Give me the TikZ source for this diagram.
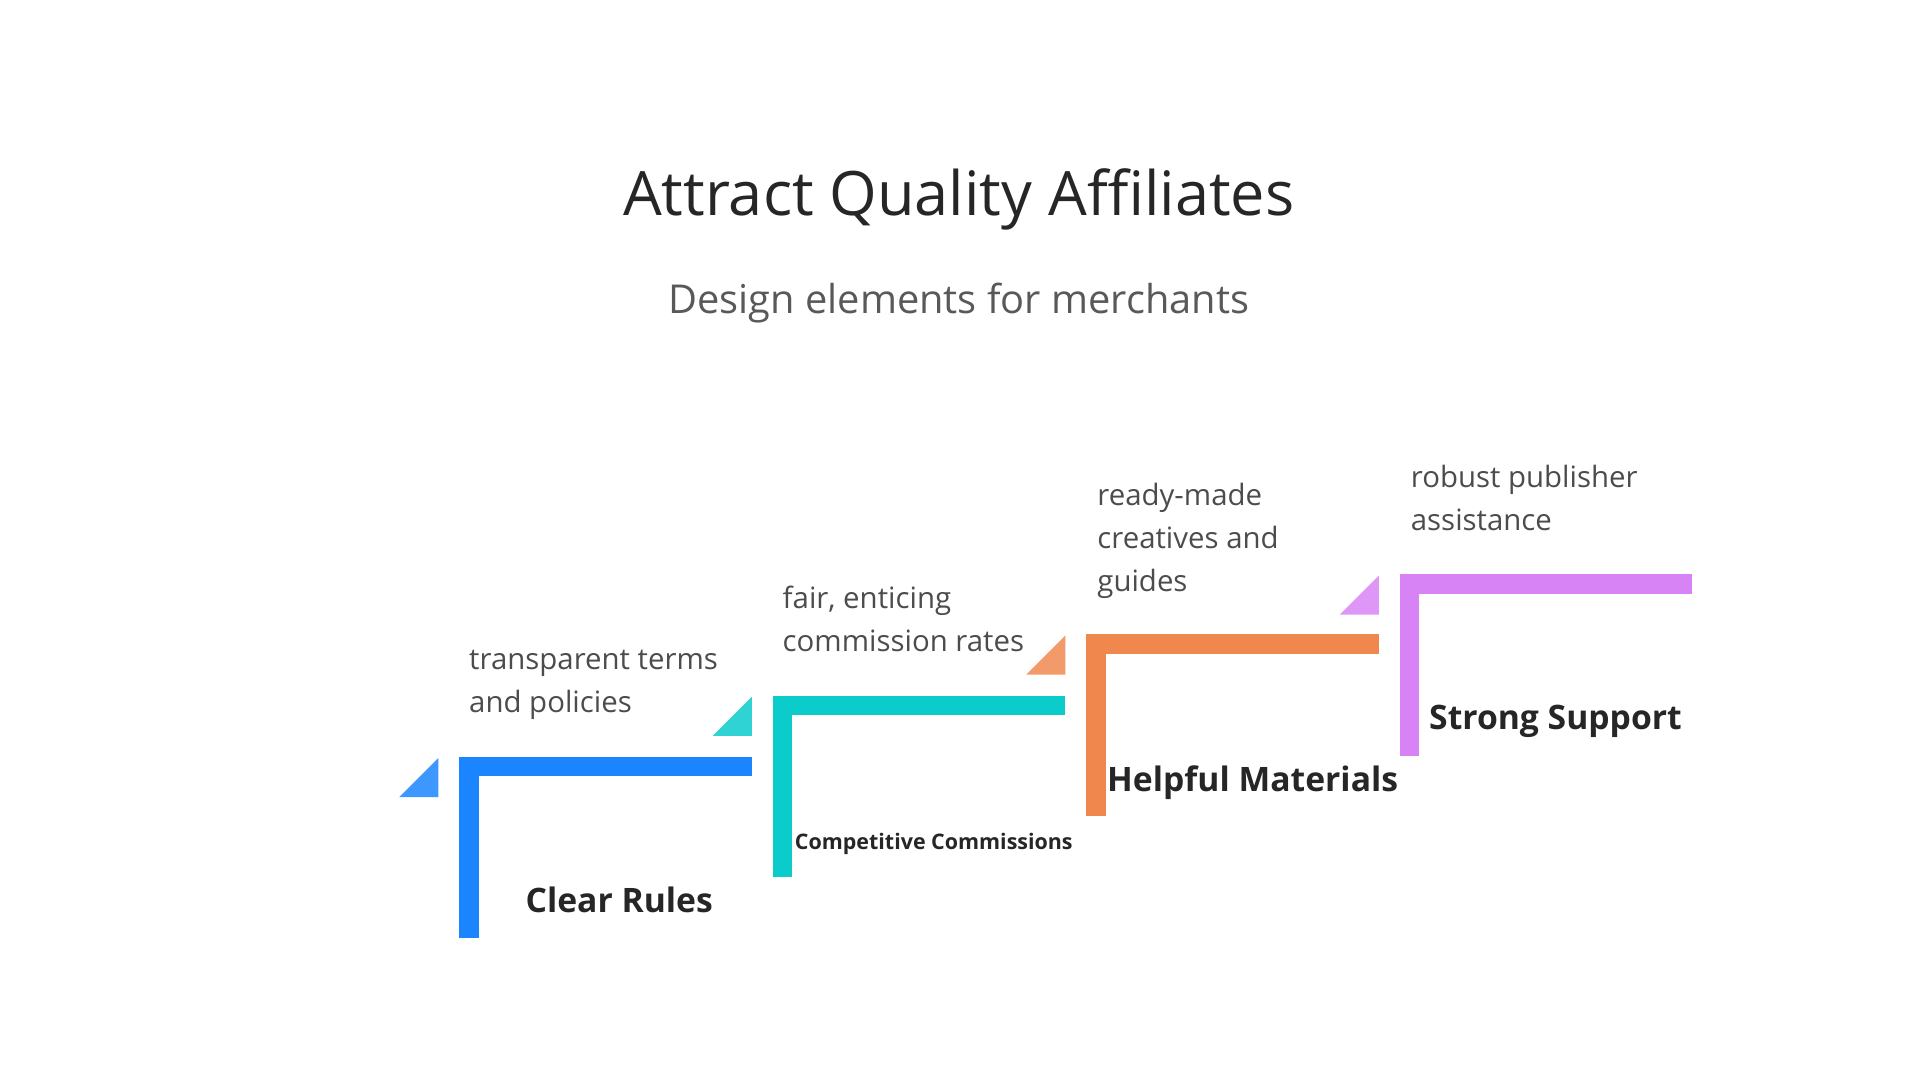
\documentclass[tikz,border=0pt]{standalone}
\usepackage{fontspec}
\setmainfont{Open Sans}
\begin{document}
\begin{tikzpicture}[x=1pt,y=-1pt,
  lbl/.style={anchor=base west,align=left,inner sep=0pt,font=\fontsize{24}{35}\selectfont,text=black!70},
  ttl/.style={anchor=base west,inner sep=0pt,font=\fontsize{27.5}{34}\selectfont\bfseries,text=black!85}]
\useasboundingbox (0,0) rectangle (1568,882);
\definecolor{cb}{HTML}{1A85FF}\definecolor{ct}{HTML}{0BCBCB}
\definecolor{co}{HTML}{F0884E}\definecolor{cp}{HTML}{D883F5}
\node[anchor=base,font=\fontsize{50}{58}\selectfont,text=black!85] (title) at (783,176) {Attract Quality Affiliates};
\node[anchor=base,font=\fontsize{32.5}{38}\selectfont,text=black!65] (sub) at (783,256) {Design elements for merchants};
% steps
\foreach \x/\y/\c in {375/618/cb,631/568/ct,887/518/co,1143/469/cp}{
  \fill[\c] (\x,\y) rectangle (\x+16,\y+148);
  \fill[\c] (\x,\y) rectangle (\x+239,\y+16);
  \fill[\c!85!white] (\x-49,\y+33) -- (\x-17,\y+33) -- (\x-17,\y+1) -- cycle;
}
\node[lbl] (l1) at (383,582) {transparent terms\\and policies};
\node[lbl] (l2) at (639,532) {fair, enticing\\commission rates};
\node[lbl] (l3) at (896,483) {ready-made\\creatives and\\guides};
\node[lbl] (l4) at (1152,433) {robust publisher\\assistance};
\node[ttl] (t1) at (429,745) {Clear Rules};
\node[anchor=base west,inner sep=0pt,font=\fontsize{17.5}{22}\selectfont\bfseries,text=black!85] (t2) at (649,694) {Competitive Commissions};
\node[ttl] (t3) at (904,646) {Helpful Materials};
\node[ttl] (t4) at (1167,596) {Strong Support};
\end{tikzpicture}
\end{document}
